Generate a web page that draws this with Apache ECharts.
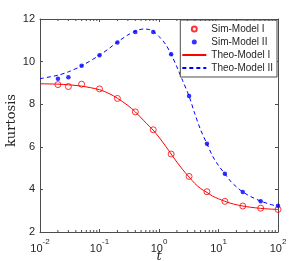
<!DOCTYPE html>
<html><head><meta charset="utf-8">
<script src="https://cdn.jsdelivr.net/npm/echarts@6/dist/echarts.min.js"></script>
<style>html,body{margin:0;padding:0;background:#fff}#c{width:306px;height:261px}</style>
</head><body><div id="c"></div>
<script>
// Simulation sample times and values
const simT = [0.02, 0.03, 0.05, 0.1, 0.2, 0.4, 0.8, 1.6, 3.2, 6.4, 12.8, 25.6, 51.2, 100];
const simModelI = [8.92, 8.83, 8.94, 8.72, 8.27, 7.64, 6.8, 5.66, 4.61, 3.89, 3.44, 3.22, 3.12, 3.06];
const simModelII = [9.19, 9.27, 9.8, 10.3, 10.9, 11.39, 11.39, 10.34, 8.38, 6.14, 4.73, 3.88, 3.44, 3.23];
// Theoretical curves
const theoT = [0.01, 0.02, 0.03, 0.05, 0.1, 0.15, 0.2, 0.3, 0.4, 0.55, 0.7, 0.8, 1, 1.3, 1.6, 2, 2.5, 3.2, 4, 5, 6.4, 8, 10, 12.8, 16, 20, 25.6, 35, 51.2, 70, 100];
const theoModelI = [8.96, 8.94, 8.91, 8.85, 8.68, 8.48, 8.28, 7.94, 7.64, 7.24, 6.94, 6.78, 6.45, 6.02, 5.66, 5.28, 4.93, 4.58, 4.28, 4.04, 3.86, 3.68, 3.56, 3.44, 3.35, 3.28, 3.22, 3.16, 3.11, 3.08, 3.06];
const theoModelII = [9.2, 9.36, 9.52, 9.8, 10.3, 10.65, 10.92, 11.25, 11.43, 11.53, 11.5, 11.42, 11.18, 10.8, 10.34, 9.75, 9.1, 8.38, 7.55, 6.8, 6.14, 5.55, 5.12, 4.73, 4.38, 4.12, 3.88, 3.66, 3.45, 3.32, 3.2];
// Axis settings
const xMin = 0.01, xMax = 100, yMin = 2, yMax = 12, yStep = 2;
const minorTicks = [];
[0.01, 0.1, 1, 10].forEach(d => { for (let k = 2; k <= 9; k++) minorTicks.push(+(d * k).toPrecision(3)); });
const names = ['Sim-Model I', 'Sim-Model II', 'Theo-Model I', 'Theo-Model II'];

const axisColor = '#4d4d4d';
const textColor = '#262626';
const zip = (a, b) => a.map((v, i) => [v, b[i]]);

const chart = echarts.init(document.getElementById('c'), null, {renderer: 'canvas'});
const xCommon = {
  type: 'log', logBase: 10, min: xMin, max: xMax, splitNumber: 4,
  splitLine: {show: false},
  axisLine: {show: true, onZero: false, lineStyle: {color: axisColor, width: 1}},
  axisTick: {show: true, inside: true, length: 3, lineStyle: {color: axisColor}}
};
const yCommon = {
  type: 'value', min: yMin, max: yMax, interval: yStep,
  splitLine: {show: false},
  axisLine: {show: true, onZero: false, lineStyle: {color: axisColor, width: 1}},
  axisTick: {show: true, inside: true, length: 3, lineStyle: {color: axisColor}}
};
chart.setOption({
  animation: false,
  backgroundColor: '#fff',
  grid: {left: 40, right: 28, top: 19, bottom: 29, containLabel: false, outerBoundsMode: 'none'},
  xAxis: [
    Object.assign({}, xCommon, {
      position: 'bottom',
      name: 't', nameLocation: 'middle', nameGap: 18, nameMoveOverlap: false,
      nameTextStyle: {fontFamily: 'DejaVu Serif', fontStyle: 'italic', fontSize: 13, color: textColor},
      axisLabel: {
        color: textColor, margin: 6,
        formatter: v => '{base|10}{sup|' + Math.round(Math.log10(v)) + '}',
        rich: {
          base: {fontSize: 11, fontFamily: 'Liberation Sans', color: textColor, lineHeight: 16, verticalAlign: 'bottom'},
          sup: {fontSize: 8, fontFamily: 'Liberation Sans', color: textColor, lineHeight: 9, verticalAlign: 'top'}
        }
      }
    }),
    Object.assign({}, xCommon, {position: 'top', axisLabel: {show: false}})
  ],
  yAxis: [
    Object.assign({}, yCommon, {
      position: 'left',
      name: 'kurtosis', nameLocation: 'middle', nameGap: 22, nameRotate: 90, nameMoveOverlap: false,
      nameTextStyle: {fontFamily: 'DejaVu Serif', fontSize: 13, color: textColor, padding: [0, 0, 0, 10]},
      axisLabel: {color: textColor, fontSize: 11, fontFamily: 'Liberation Sans', margin: 5}
    }),
    Object.assign({}, yCommon, {position: 'right', axisLabel: {show: false}})
  ],
  legend: {
    orient: 'vertical', right: 29, top: 20,
    data: [
      {name: names[0]},
      {name: names[1]},
      {name: names[2], itemStyle: {opacity: 0}},
      {name: names[3], itemStyle: {opacity: 0}}
    ],
    itemWidth: 24, itemHeight: 5, itemGap: 3,
    padding: [4, 4, 4, 1],
    backgroundColor: '#fff', borderColor: axisColor, borderWidth: 1, borderRadius: 0,
    textStyle: {color: textColor, fontSize: 10, fontFamily: 'Liberation Sans', lineHeight: 10},
    selectedMode: false
  },
  series: [
    {
      name: 'Sim-Model I', type: 'scatter', data: zip(simT, simModelI),
      symbol: 'circle', symbolSize: 6, z: 4,
      itemStyle: {color: 'rgba(255,255,255,0)', borderColor: '#ff0000', borderWidth: 1}
    },
    {
      name: 'Sim-Model II', type: 'scatter', data: zip(simT, simModelII),
      symbol: 'circle', symbolSize: 4.5, z: 4,
      itemStyle: {color: '#0000ff'}
    },
    {
      name: 'Theo-Model I', type: 'line', data: zip(theoT, theoModelI),
      symbol: 'none', smooth: 0.3, z: 3,
      lineStyle: {color: '#ff0000', width: 1}, itemStyle: {color: '#ff0000'}
    },
    {
      name: 'Theo-Model II', type: 'line', data: zip(theoT, theoModelII),
      symbol: 'none', smooth: 0.3, z: 3,
      lineStyle: {color: '#0000ff', width: 1, type: [4, 3]}, itemStyle: {color: '#0000ff'}
    },
    {
      name: 'minor', type: 'custom', silent: true, z: 5,
      data: minorTicks.map(v => [v]),
      renderItem: (params, api) => {
        const x = api.value(0);
        const b = api.coord([x, yMin]);
        const t = api.coord([x, yMax]);
        const st = {stroke: axisColor, lineWidth: 1};
        return {type: 'group', children: [
          {type: 'line', shape: {x1: b[0], y1: b[1], x2: b[0], y2: b[1] - 2}, style: st},
          {type: 'line', shape: {x1: t[0], y1: t[1], x2: t[0], y2: t[1] + 2}, style: st}
        ]};
      },
      encode: {x: 0}
    }
  ]
});
</script></body></html>
